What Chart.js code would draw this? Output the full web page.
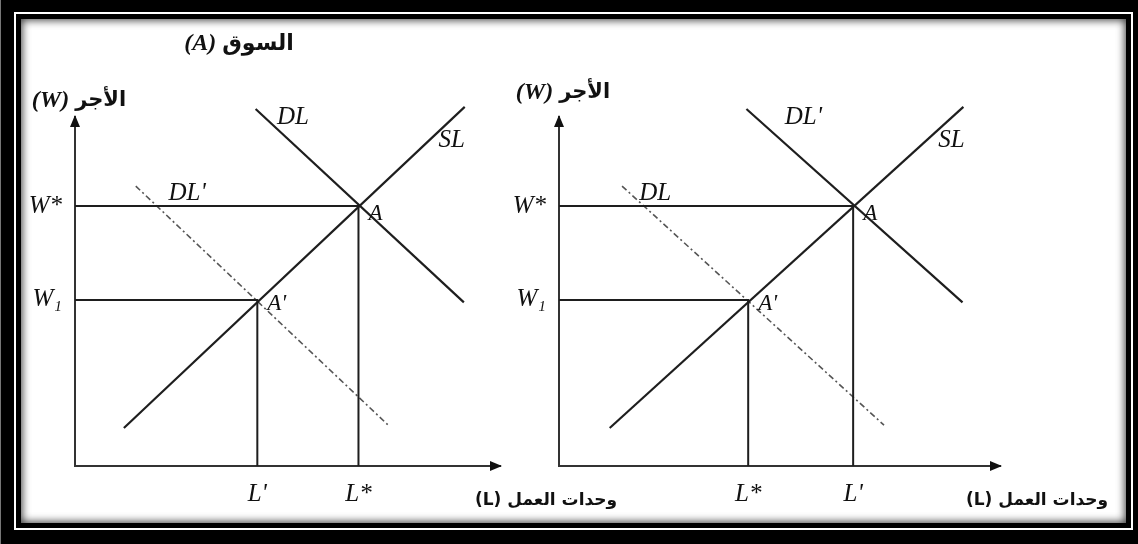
<!DOCTYPE html>
<html>
<head>
<meta charset="utf-8">
<script src="https://cdn.jsdelivr.net/npm/chart.js@4.4.1/dist/chart.umd.min.js"></script>
<style>
  html, body { margin: 0; padding: 0; background: #000; }
  body { width: 1138px; height: 544px; position: relative; overflow: hidden; }
  .edge { position: absolute; left: 0; top: 0; width: 1px; height: 544px; background: #777; }
  .frame { position: absolute; left: 14px; top: 12px; width: 1119px; height: 518px;
           box-sizing: border-box; border: 2px solid #fff; background: #000; }
  .paper { position: absolute; left: 5px; top: 5px; right: 5px; bottom: 5px; background: #fff;
           box-shadow: inset 0 0 8px 1px rgba(0,0,0,0.8); }
  canvas { position: absolute; left: 0; top: 0; }
</style>
</head>
<body>
<div class="edge"></div>
<div class="frame"><div class="paper"></div></div>
<canvas id="marketA" width="1138" height="544"></canvas>
<canvas id="marketB" width="1138" height="544"></canvas>
<script>
// labour units (L) and wage (W), same diagram on both panels
const supplyL = [1.15, 9.17];
const supplyW = [1.09, 10.29];
const demandHighL = [4.25, 9.15];
const demandHighW = [10.23, 4.69];
const demandLowL = [1.43, 7.37];
const demandLowW = [8.02, 1.17];
// equilibria: A' (low) then A (high)
const eqL = [4.29, 6.67];
const eqW = [4.76, 7.45];
const eqNames = ["A'", 'A'];
const wageTickLabels = ['W\u2081', 'W*'];
const laborLabelsA = ["L'", 'L*'];
const laborLabelsB = ['L*', "L'"];

const serif = "'Liberation Serif', 'DejaVu Serif', serif";
const arabic = "'DejaVu Sans', sans-serif";
const ink = '#111';

const toPts = (xs, ys) => xs.map((x, i) => ({ x: x, y: ys[i] }));

function drawPieces(ctx, pieces, cx, cy) {
    const gap = 6;
    let total = 0;
    pieces.forEach(p => { ctx.font = p.font; p.w = ctx.measureText(p.text).width; total += p.w; });
    total += gap * (pieces.length - 1);
    let x = cx - total / 2;
    ctx.textBaseline = 'middle';
    ctx.textAlign = 'left';
    pieces.forEach(p => {
        ctx.font = p.font;
        ctx.fillText(p.text, x, cy);
        x += p.w + gap;
    });
}

// arrows, curve names and Arabic titles
const annotations = {
    id: 'annotations',
    afterDraw(chart, args, opts) {
        const { ctx } = chart;
        const x = chart.scales.x, y = chart.scales.y;
        const ox = x.getPixelForValue(0), oy = y.getPixelForValue(0);
        const xEnd = x.right, yTop = y.top;
        ctx.save();
        ctx.fillStyle = '#111';
        // arrow heads
        ctx.beginPath();
        ctx.moveTo(xEnd + 2, oy);
        ctx.lineTo(xEnd - 10, oy - 5);
        ctx.lineTo(xEnd - 10, oy + 5);
        ctx.closePath();
        ctx.fill();
        ctx.beginPath();
        ctx.moveTo(ox, yTop - 2);
        ctx.lineTo(ox - 5, yTop + 10);
        ctx.lineTo(ox + 5, yTop + 10);
        ctx.closePath();
        ctx.fill();

        // curve and point names
        ctx.fillStyle = ink;
        ctx.font = 'italic 25px ' + serif;
        ctx.textAlign = 'left';
        ctx.textBaseline = 'middle';
        opts.names.forEach(n => {
            ctx.fillText(n.text, x.getPixelForValue(n.l), y.getPixelForValue(n.w));
        });
        ctx.font = 'italic 23px ' + serif;
        eqNames.forEach((n, i) => {
            ctx.fillText(n, x.getPixelForValue(eqL[i]) + 10, y.getPixelForValue(eqW[i]) + (i ? 8 : 4));
        });

        // axis titles
        drawPieces(ctx, [
            { text: '(W)', font: 'italic bold 24px ' + serif },
            { text: 'الأجر', font: 'bold 21px ' + arabic }
        ], ox + 4, yTop + opts.wageTitleDy);
        drawPieces(ctx, [
            { text: '(L)', font: 'bold 17px ' + arabic },
            { text: 'وحدات العمل', font: 'bold 17px ' + arabic }
        ], xEnd + opts.laborTitleDx, oy + 35);

        if (opts.title) {
            drawPieces(ctx, [
                { text: '(A)', font: 'italic bold 24px ' + serif },
                { text: opts.title, font: 'bold 22px ' + arabic }
            ], ox + 164, yTop - 73);
        }
        ctx.restore();
    }
};

function makeMarket(canvasId, left, right, xLabels, solidName, dashedName, names, extra) {
    return new Chart(document.getElementById(canvasId), {
        type: 'line',
        data: {
            datasets: [
                { data: [{ x: 0, y: eqW[1] }, { x: eqL[1], y: eqW[1] }, { x: eqL[1], y: 0 }],
                  borderColor: '#1e1e1e', borderWidth: 2 },
                { data: [{ x: 0, y: eqW[0] }, { x: eqL[0], y: eqW[0] }, { x: eqL[0], y: 0 }],
                  borderColor: '#1e1e1e', borderWidth: 2 },
                { label: 'SL', data: toPts(supplyL, supplyW), borderColor: '#1e1e1e', borderWidth: 2.2 },
                { label: solidName, data: toPts(demandHighL, demandHighW), borderColor: '#1e1e1e', borderWidth: 2.2 },
                { label: dashedName, data: toPts(demandLowL, demandLowW), borderColor: '#555',
                  borderWidth: 1.6, borderDash: [6, 3, 2, 3] }
            ]
        },
        options: {
            responsive: false,
            animation: false,
            clip: false,
            layout: { padding: { left: left - 60, right: 1138 - right, top: 117, bottom: 544 - 466 - 46 } },
            elements: { point: { radius: 0 }, line: { tension: 0, fill: false } },
            plugins: {
                legend: { display: false },
                tooltip: { enabled: false },
                annotations: Object.assign({ names: names }, extra)
            },
            scales: {
                x: {
                    type: 'linear', min: 0, max: 10,
                    grid: { display: false, drawTicks: false },
                    border: { display: true, color: '#333', width: 2 },
                    afterBuildTicks: s => { s.ticks = eqL.map(v => ({ value: v })); },
                    afterFit: s => { s.height = 46; },
                    ticks: {
                        autoSkip: false, maxRotation: 0, padding: 13, color: ink,
                        font: { family: serif, style: 'italic', size: 25 },
                        callback: (v, i) => xLabels[i]
                    }
                },
                y: {
                    type: 'linear', min: 0, max: 10,
                    grid: { display: false, drawTicks: false },
                    border: { display: true, color: '#333', width: 2 },
                    afterBuildTicks: s => { s.ticks = eqW.map(v => ({ value: v })); },
                    afterFit: s => { s.width = 60; },
                    ticks: {
                        autoSkip: false, padding: 13, color: ink,
                        font: { family: serif, style: 'italic', size: 25 },
                        callback: (v, i) => wageTickLabels[i]
                    }
                }
            }
        },
        plugins: [annotations]
    });
}

makeMarket('marketA', 75, 500, laborLabelsA, 'DL', "DL'", [
    { text: 'DL', l: 4.75, w: 10.0 },
    { text: 'SL', l: 8.55, w: 9.34 },
    { text: "DL'", l: 2.2, w: 7.82 }
], { wageTitleDy: -16, laborTitleDx: 46, title: 'السوق' });

makeMarket('marketB', 559, 1000, laborLabelsB, "DL'", 'DL', [
    { text: "DL'", l: 5.12, w: 10.0 },
    { text: 'SL', l: 8.6, w: 9.34 },
    { text: 'DL', l: 1.82, w: 7.82 }
], { wageTitleDy: -24, laborTitleDx: 37, title: null });
</script>
</body>
</html>
